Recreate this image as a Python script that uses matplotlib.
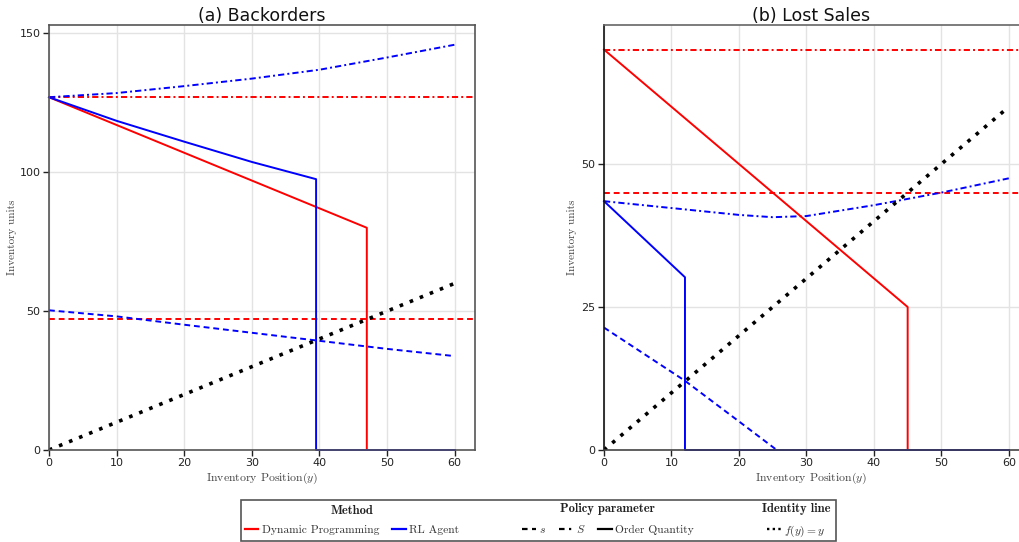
import matplotlib
matplotlib.use("Agg")
import matplotlib.pyplot as plt
from matplotlib.lines import Line2D
from matplotlib.patches import Rectangle

plt.rcParams['mathtext.fontset'] = 'cm'
plt.rcParams['axes.unicode_minus'] = False

# ---------------- data ----------------
# (a) Backorders
bo_dp_S = 127
bo_dp_s = 47
bo_dp_order_x = [0, 47, 47, 60]
bo_dp_order_y = [127, 80, 0, 0]
bo_rl_x = [0, 10, 20, 30, 40, 50, 60]
bo_rl_S = [127, 128.5, 131.0, 133.7, 136.9, 141.3, 145.9]
bo_rl_s = [50.3, 48.1, 45.1, 42.2, 39.3, 36.4, 33.8]
bo_rl_order_x = [0, 10, 20, 30, 39.5, 39.5, 60]
bo_rl_order_y = [127, 118.5, 111.0, 103.7, 97.5, 0, 0]

# (b) Lost Sales
ls_dp_S = 70
ls_dp_s = 45
ls_dp_order_x = [0, 45, 45, 60]
ls_dp_order_y = [70, 25, 0, 0]
ls_rl_S_x = [0, 10, 20, 25, 30, 40, 50, 60]
ls_rl_S = [43.5, 42.3, 41.1, 40.7, 40.9, 42.8, 45.0, 47.5]
ls_rl_s_x = [0, 12, 20, 25.6, 60]
ls_rl_s = [21.4, 12.1, 5.0, 0, 0]
ls_rl_order_x = [0, 12, 12, 60]
ls_rl_order_y = [43.5, 30.2, 0, 0]

identity_x = [0, 60]
identity_y = [0, 60]

# ---------------- styling ----------------
LW = 1.4
DASH = (0, (3, 2))
DASHDOT = (0, (3.2, 1.6, 1, 1.6))
DOT = (0, (1, 2))
RED = '#ff0000'
BLUE = '#0000ff'
SERIF = 'cmr10'

fig = plt.figure(figsize=(10.19, 5.42), dpi=100)
W, H = 1019, 542

def add_axes(l, r, t, b):
    return fig.add_axes([l / W, 1 - b / H, (r - l) / W, (b - t) / H])

axL = add_axes(49, 475, 25, 450)
axR = add_axes(604, 1019, 25, 450)

def style(ax, title, yticks, ylim, xlim, lpad):
    ax.set_xlim(*xlim)
    ax.set_ylim(*ylim)
    ax.set_xticks([0, 10, 20, 30, 40, 50, 60])
    ax.set_yticks(yticks)
    ax.grid(True, color='#e3e3e3', lw=1.0)
    ax.set_axisbelow(True)
    ax.tick_params(direction='out', length=4, width=1, labelsize=8,
                   colors='#222222', pad=2)
    ax.set_title(title, fontsize=12.5, pad=3, color='#111111')
    ax.set_xlabel('Inventory Position$(y)$', family=SERIF, fontsize=8.5,
                  color='#444444', labelpad=2)
    ax.set_ylabel('Inventory units', family=SERIF, fontsize=8,
                  color='#444444', labelpad=lpad)

style(axL, '(a) Backorders', [0, 50, 100, 150], (0, 153), (0, 63), 2)
style(axR, '(b) Lost Sales', [0, 25, 50], (0, 74.3), (0, 61.5), 3.5)

for sp in axL.spines.values():
    sp.set_color('#555555')
    sp.set_linewidth(1.2)
axR.spines['left'].set_color('#111111')
axR.spines['bottom'].set_color('#444444')
axR.spines['top'].set_color('#666666')
axR.spines['right'].set_visible(False)
for sp in axR.spines.values():
    sp.set_linewidth(1.2)

# ---- (a) Backorders ----
ax = axL
ax.axhline(bo_dp_S, color=RED, lw=LW, ls=DASHDOT)
ax.axhline(bo_dp_s, color=RED, lw=LW, ls=DASH)
ax.plot(bo_rl_x, bo_rl_S, color=BLUE, lw=LW, ls=DASHDOT)
ax.plot(bo_rl_x, bo_rl_s, color=BLUE, lw=LW, ls=DASH)
ax.plot(identity_x, identity_y, color='black', lw=2.6, ls=DOT)
ax.plot(bo_dp_order_x, bo_dp_order_y, color=RED, lw=LW, clip_on=False)
ax.plot(bo_rl_order_x, bo_rl_order_y, color=BLUE, lw=LW, clip_on=False)

# ---- (b) Lost Sales ----
ax = axR
ax.axhline(ls_dp_S, color=RED, lw=LW, ls=DASHDOT)
ax.axhline(ls_dp_s, color=RED, lw=LW, ls=DASH)
ax.plot(ls_rl_S_x, ls_rl_S, color=BLUE, lw=LW, ls=DASHDOT)
ax.plot(ls_rl_s_x, ls_rl_s, color=BLUE, lw=LW, ls=DASH)
ax.plot(identity_x, identity_y, color='black', lw=2.6, ls=DOT)
ax.plot(ls_dp_order_x, ls_dp_order_y, color=RED, lw=LW, clip_on=False)
ax.plot(ls_rl_order_x, ls_rl_order_y, color=BLUE, lw=LW, clip_on=False)

# ---------------- legend ----------------
prop = {'family': SERIF, 'size': 8.3}
tprop = {'family': 'cmb10', 'size': 9}

groups = [
    ('Method', 352, 505,
     [Line2D([], [], color=RED, lw=1.6), Line2D([], [], color=BLUE, lw=1.6)],
     ['Dynamic Programming', 'RL Agent']),
    ('Policy parameter', 608, 503,
     [Line2D([], [], color='black', lw=1.6, ls=(0, (2.5, 2))),
      Line2D([], [], color='black', lw=1.6, ls=(0, (2.5, 2, 1, 2))),
      Line2D([], [], color='black', lw=1.6)],
     ['$s$', '$S$', 'Order Quantity']),
    ('Identity line', 796, 503,
     [Line2D([], [], color='black', lw=1.7, ls=(0, (1, 1.4)))],
     ['$f(y) = y$']),
]
for title, cx, cy, handles, labels in groups:
    leg = fig.legend(handles, labels, loc='upper center',
                     bbox_to_anchor=(cx / W, 1 - cy / H), ncol=len(labels),
                     frameon=False, prop=prop, title=title,
                     title_fontproperties=tprop, handlelength=1.2,
                     handletextpad=0.3, columnspacing=1.1, borderpad=0.0,
                     borderaxespad=0.0, labelspacing=0.2)
    for t in leg.get_texts():
        t.set_color('#333333')
    leg.get_title().set_color('#222222')
    leg._legend_box.sep = 6

fig.add_artist(Rectangle((240.7 / W, 1 - 541 / H), (836 - 240.7) / W,
                         (541 - 500) / H, transform=fig.transFigure,
                         fill=False, edgecolor='#555555', lw=1.2))

fig.savefig('out.png', dpi=100)
